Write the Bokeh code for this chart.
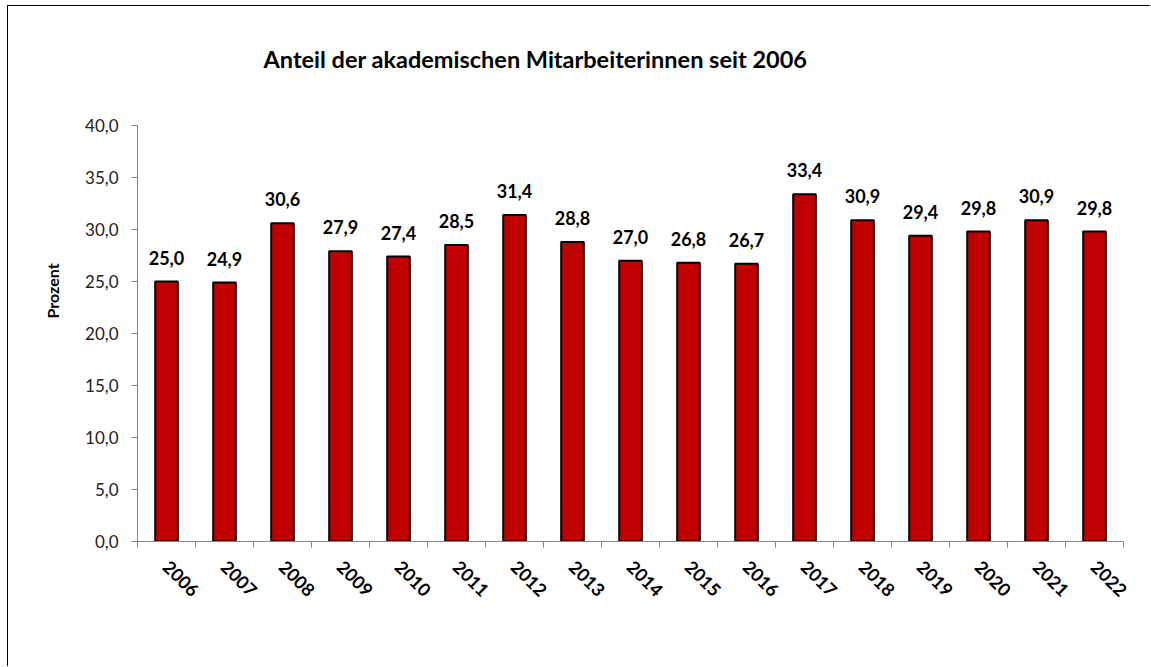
from bokeh.plotting import figure
from bokeh.models import Range1d, FixedTicker, ColumnDataSource, Title, CustomJSTickFormatter
from bokeh.core.properties import value
from bokeh.embed import file_html
from bokeh.resources import INLINE
from math import pi

years = ["2006", "2007", "2008", "2009", "2010", "2011", "2012", "2013", "2014",
         "2015", "2016", "2017", "2018", "2019", "2020", "2021", "2022"]
values = [25.0, 24.9, 30.6, 27.9, 27.4, 28.5, 31.4, 28.8, 27.0,
          26.8, 26.7, 33.4, 30.9, 29.4, 29.8, 30.9, 29.8]
y_ticks = [0, 5, 10, 15, 20, 25, 30, 35, 40]
title_text = "Anteil der akademischen Mitarbeiterinnen seit 2006"
y_label = "Prozent"

FONT = "Lato"
idx = list(range(len(years)))
labels = [f"{v:.1f}".replace(".", ",") for v in values]
src = ColumnDataSource(dict(x=idx, top=values, lab=labels))

p = figure(width=1143, height=661, output_backend="svg", toolbar_location=None,
           x_range=Range1d(-0.5, len(years) - 0.5), y_range=Range1d(0, 40),
           min_border_left=129, min_border_top=119, min_border_right=28, min_border_bottom=126)
p.styles = {"border-top": "1px solid #000000", "border-left": "1px solid #000000",
            "margin-left": "7px", "margin-top": "5px"}
p.outline_line_color = None
p.xgrid.visible = False
p.ygrid.visible = False

p.title.text = title_text
p.title.align = "left"
p.title.offset = 126
p.title.standoff = 0
p.title.text_font = FONT
p.title.text_font_size = "23.5px"
p.title.text_font_style = "bold"
p.title.text_color = "#000000"

# spacer between frame and title
p.add_layout(Title(text=" ", standoff=23, text_font=FONT, text_font_size="23.5px"), "above")

p.vbar(x="x", top="top", width=0.39, source=src, fill_color="#C00000",
       line_color="#000000", line_width=2)
p.text(x="x", y="top", text="lab", source=src, text_align="center",
       text_baseline="alphabetic", y_offset=-24, text_font=value(FONT),
       text_font_size="18px", text_font_style="bold", text_color="#000000")

# x axis
xa = p.xaxis[0]
xa.ticker = FixedTicker(ticks=idx, minor_ticks=[i - 0.5 for i in range(len(years) + 1)])
xa.major_label_overrides = {i: y for i, y in zip(idx, years)}
xa.major_tick_line_color = None
xa.major_tick_out = 0
xa.major_tick_in = 0
xa.minor_tick_out = 6
xa.minor_tick_in = 0
xa.minor_tick_line_color = "#868686"
xa.axis_line_color = "#868686"
xa.major_label_orientation = -pi / 4
xa.major_label_text_font = FONT
xa.major_label_text_font_size = "18px"
xa.major_label_text_font_style = "bold"
xa.major_label_text_color = "#000000"
xa.major_label_standoff = 16

# y axis
ya = p.yaxis[0]
ya.ticker = FixedTicker(ticks=y_ticks)
ya.formatter = CustomJSTickFormatter(code="return tick.toFixed(1).replace('.', ',');")
ya.major_tick_out = 6
ya.major_tick_in = 0
ya.minor_tick_line_color = None
ya.major_tick_line_color = "#868686"
ya.axis_line_color = "#868686"
ya.major_label_text_font = FONT
ya.major_label_text_font_size = "17px"
ya.major_label_text_color = "#222222"
ya.major_label_standoff = 13

p.add_layout(Title(text=y_label, align="left", offset=223, standoff=42,
                   text_font=FONT, text_font_size="16px", text_font_style="bold",
                   text_color="#000000"), "left")

open("out.html", "w").write(file_html(p, INLINE))
